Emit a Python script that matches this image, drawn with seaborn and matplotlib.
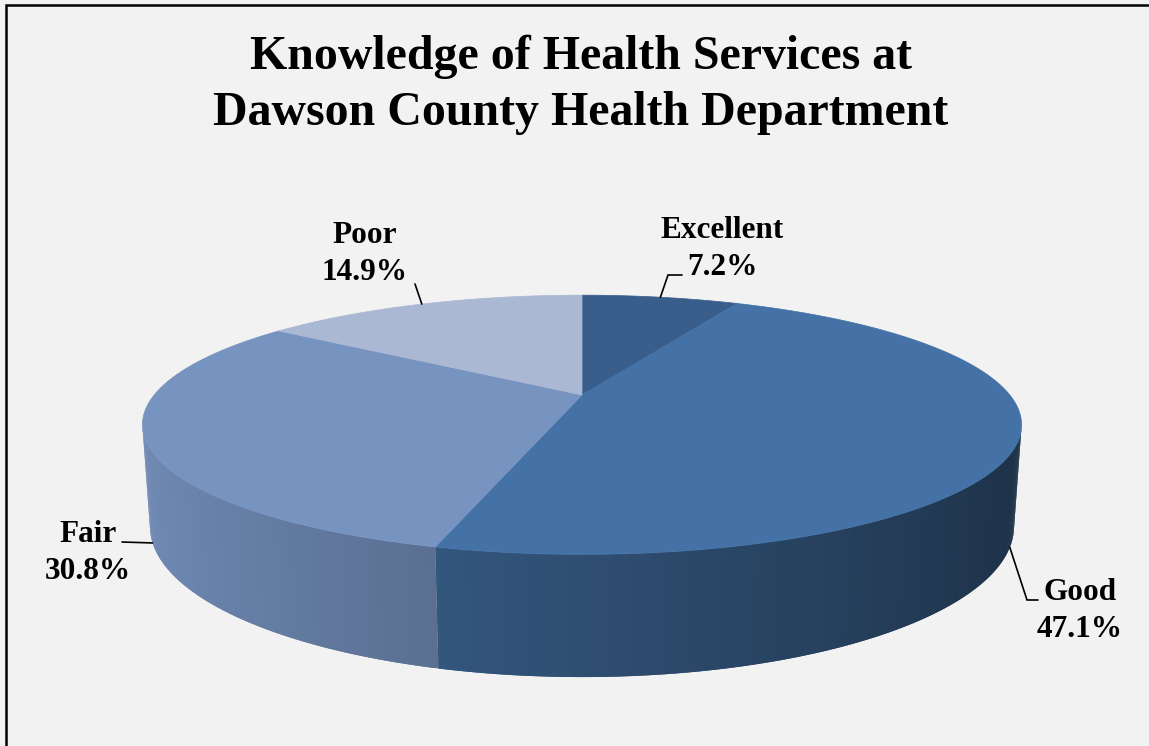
import numpy as np
import matplotlib
matplotlib.use("Agg")
import matplotlib.pyplot as plt
from matplotlib.patches import Polygon
from matplotlib.colors import to_rgb
import seaborn as sns

# ---- data ----
categories = ["Excellent", "Good", "Fair", "Poor"]
values = [7.2, 47.1, 30.8, 14.9]
slice_colors = ["#3A5E8C", "#4472A6", "#7793C0", "#ABB8D3"]
title_lines = ["Knowledge of Health Services at", "Dawson County Health Department"]

# ---- layout (pixel space) ----
CX, CY = 582.0, 395.0          # projected pie centre
PHI = np.arcsin(0.287)         # camera elevation
DIST = 4.17                    # camera distance (in radii)
FOC = 1784.0                   # focal scale
THICK = 0.242                  # pie thickness (in radii)
label_pos = {"Excellent": (722, 238), "Good": (1080, 600),
             "Fair": (88, 542), "Poor": (364.5, 243)}
leader_path = {"Excellent": [(668, 275), (682, 275)],
               "Good": [(1027, 600), (1038, 600)],
               "Fair": [(122, 542)],
               "Poor": [(415, 284)]}

sns.set_theme(style="white")
plt.rcParams['font.family'] = ['Liberation Serif', 'DejaVu Serif']

fig = plt.figure(figsize=(11.49, 7.46), dpi=100, facecolor="#F2F2F2")
ax = fig.add_axes([0, 0, 1, 1])
ax.set_facecolor("#F2F2F2")
ax.set_xlim(0, 1149)
ax.set_ylim(746, 0)
ax.axis("off")


def project(t_deg, z):
    t = np.radians(t_deg)
    X, Y = np.sin(t), np.cos(t)
    depth = DIST + Y * np.cos(PHI) - z * np.sin(PHI)
    w = Y * np.sin(PHI) + z * np.cos(PHI)
    return CX + FOC * X / depth, CY - FOC * w / depth


fracs = np.array(values) / np.sum(values)
cum = np.concatenate([[0.0], np.cumsum(fracs)]) * 360.0

# visible side wall range (clockwise degrees from 12 o'clock)
t_lo = np.degrees(np.arccos(-1.0 / (DIST * np.cos(PHI))))
t_hi = 360.0 - t_lo

# side walls with left-to-right shading (overlapping strips -> no seams)
STEP = 0.5
for i, c in enumerate(slice_colors):
    a0, a1 = max(cum[i], t_lo), min(cum[i + 1], t_hi)
    if a1 <= a0:
        continue
    ts = np.append(np.arange(a0, a1, STEP), a1)
    base = np.array(to_rgb(c))
    for u0, u1 in zip(ts[:-1], ts[1:]):
        ue = min(u1 + STEP, a1)
        seg = np.linspace(u0, ue, 3)
        xa, ya = project(seg, 0.0)
        xb, yb = project(seg[::-1], -THICK)
        Xm = np.sin(np.radians((u0 + u1) / 2))
        f = 0.686 - 0.264 * Xm
        col = np.clip(base * f, 0, 1)
        ax.add_patch(Polygon(np.column_stack([np.r_[xa, xb], np.r_[ya, yb]]),
                             closed=True, facecolor=col, edgecolor="none", lw=0))

# top face wedges
for i, c in enumerate(slice_colors):
    ts = np.linspace(cum[i], cum[i + 1], 200)
    xs, ys = project(ts, 0.0)
    pts = np.column_stack([np.r_[CX, xs], np.r_[CY, ys]])
    ax.add_patch(Polygon(pts, closed=True, facecolor=c, edgecolor=c, lw=0.5))

# labels + leader lines
for i, name in enumerate(categories):
    mid = (cum[i] + cum[i + 1]) / 2
    z = -THICK if t_lo < mid < t_hi else 0.0
    sx, sy = project(mid, z)
    path = [(sx, sy)] + leader_path[name]
    ax.plot([p[0] for p in path], [p[1] for p in path], color="black", lw=1.2,
            solid_joinstyle="miter")
    lx, ly = label_pos[name]
    ax.text(lx, ly, name, ha="center", va="baseline", fontsize=22.5,
            fontweight="bold", color="black")
    ax.text(lx, ly + 37, f"{values[i]:.1f}%", ha="center", va="baseline",
            fontsize=22.5, fontweight="bold", color="black")

# title
ax.text(581, 69, title_lines[0], ha="center", va="baseline", fontsize=34.5,
        fontweight="bold", color="black")
ax.text(581, 125, title_lines[1], ha="center", va="baseline", fontsize=34.5,
        fontweight="bold", color="black")

# frame: only the top and left edges fall inside the canvas
ax.plot([6, 6, 1149], [746, 5, 5], color="black", lw=1.8,
        solid_joinstyle="miter", solid_capstyle="butt")

fig.savefig("out.png", dpi=100, facecolor="#F2F2F2")
